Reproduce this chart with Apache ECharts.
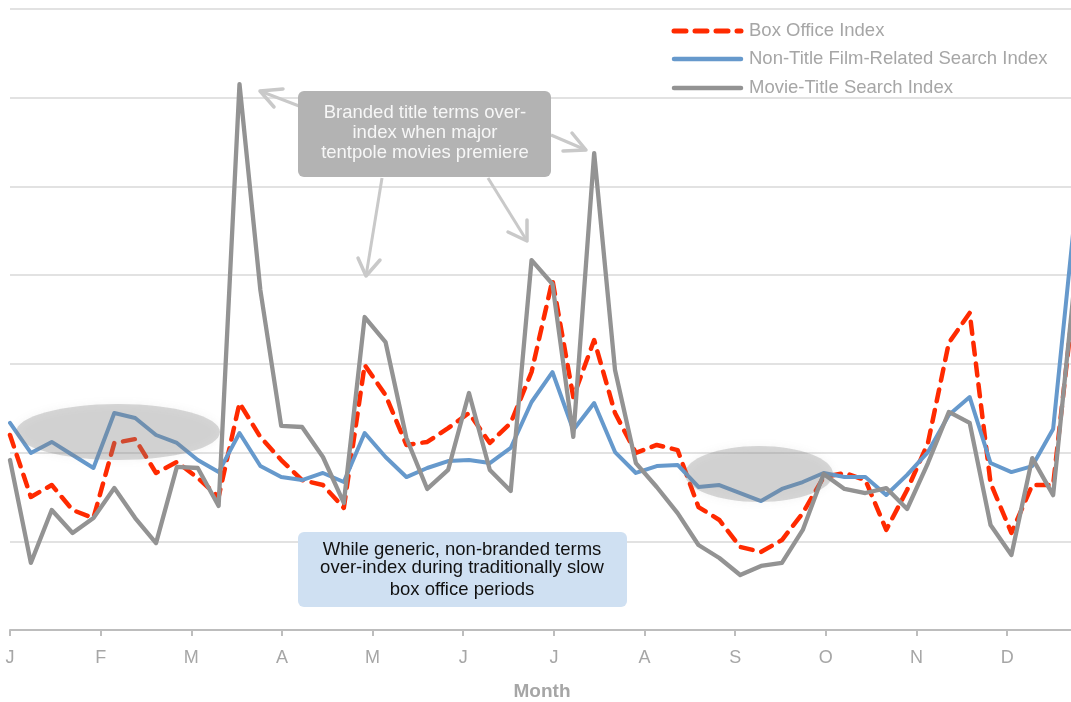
<!DOCTYPE html>
<html>
<head>
<meta charset="utf-8">
<script src="https://cdn.jsdelivr.net/npm/echarts@6/dist/echarts.min.js"></script>
<style>
html,body{margin:0;padding:0;background:#fff;overflow:hidden;}
#chart{width:1071px;height:702px;}
</style>
</head>
<body>
<div id="chart"></div>
<script>
// Month tick labels
var monthLabels = ['J','F','M','A','M','J','J','A','S','O','N','D'];
// Weekly index values (52 weeks)
var boxOffice = [109.9,75.0,81.7,67.6,63.1,105.4,107.6,88.5,94.7,85.7,75.0,127.9,108.8,95.8,84.5,81.7,68.8,149.4,132.4,104.3,106.0,113.8,122.3,105.4,116.7,145.4,197.3,131.3,163.4,122.3,99.8,104.3,101.4,69.3,62.0,46.8,44.0,50.7,65.9,86.2,88.5,84.5,56.4,78.9,105.4,161.8,178.7,82.8,54.7,81.7,81.7,187.0];
var nonTitle = [116.7,99.8,106.0,98.6,91.3,122.3,119.5,109.9,105.4,95.8,89.0,111.0,92.4,86.2,84.5,88.5,83.4,111.0,97.5,86.2,91.3,95.2,95.8,94.1,102.6,128.5,145.4,112.7,127.9,100.3,88.5,92.4,93.0,80.6,81.7,77.2,72.7,79.5,83.4,88.5,86.2,86.2,76.1,87.4,100.3,121.2,131.3,94.1,89.0,92.4,113.3,228.8];
var movieTitle = [95.8,37.8,67.6,54.7,63.1,80.0,63.1,49.0,91.9,91.3,69.9,307.7,191.6,115.0,114.4,97.5,71.6,176.4,162.3,108.2,79.5,90.2,133.6,90.2,78.3,208.5,195.0,108.8,268.8,146.5,94.1,80.6,65.9,47.9,40.6,31.0,36.1,37.8,56.4,87.9,79.5,77.2,80.0,68.2,94.1,122.9,116.7,59.2,42.3,96.9,76.0,192.5];
var seriesNames = ['Box Office Index','Non-Title Film-Related Search Index','Movie-Title Search Index'];
var seriesColors = ['#ff2a00','#6699cc','#939393'];

function pairs(arr){ return arr.map(function(v,i){ return [i, v]; }); }
var monthInterval = 52.14/12;

var chart = echarts.init(document.getElementById('chart'), null, {renderer:'canvas'});
var font = '"Liberation Sans", Arial, sans-serif';

function arrow(shaft, head){
  return [
    {type:'polyline', z:20, shape:{points:shaft}, style:{stroke:'#c9c9c9', lineWidth:3, fill:null}},
    {type:'polyline', z:20, shape:{points:head}, style:{stroke:'#c9c9c9', lineWidth:3.5, fill:null, lineCap:'round', lineJoin:'round'}}
  ];
}

var graphics = [];
// ellipses (semi-transparent highlight)
var ellStyle = {fill:'rgba(128,128,128,0.3)', shadowBlur:8, shadowColor:'rgba(128,128,128,0.3)'};
graphics.push({type:'ellipse', z:15, shape:{cx:118, cy:432, rx:102, ry:28}, style:ellStyle});
graphics.push({type:'ellipse', z:15, shape:{cx:759, cy:474, rx:74, ry:28}, style:ellStyle});
// arrows
graphics = graphics.concat(arrow([[299,106],[260,91]], [[283,89],[260,91],[274,107]]));
graphics = graphics.concat(arrow([[551,135],[586,150]], [[563,151],[586,150],[572,133]]));
graphics = graphics.concat(arrow([[382,178],[366,276]], [[358,258],[366,276],[380,260]]));
graphics = graphics.concat(arrow([[488,178],[527,241]], [[508,232],[527,241],[527,220]]));
// gray box
graphics.push({type:'rect', z:21, shape:{x:298, y:91, width:253, height:86, r:6}, style:{fill:'#b3b3b3'}});
graphics.push({type:'text', z:22, x:425, y:133, style:{
  text:'Branded title terms over-\nindex when major\ntentpole movies premiere',
  fill:'#f7f7f7', font:'18.5px ' + font, align:'center', verticalAlign:'middle', lineHeight:20}});
// blue box
graphics.push({type:'rect', z:21, shape:{x:298, y:532, width:329, height:75, r:6}, style:{fill:'#cfe0f2'}});
var blueLines = [['While generic, non-branded terms',550],['over-index during traditionally slow',568],['box office periods',590]];
blueLines.forEach(function(l){
  graphics.push({type:'text', z:22, x:462, y:l[1], style:{text:l[0], fill:'#111111',
    font:'18.5px ' + font, align:'center', verticalAlign:'middle'}});
});
// legend (drawn as graphic to match the reference's line-only keys)
var legendY = [31, 59, 88];
seriesNames.forEach(function(name, k){
  graphics.push({type:'line', z:22, shape:{x1:674, y1:legendY[k], x2:741, y2:legendY[k]},
    style:{stroke:seriesColors[k], lineWidth:k===0?5:4.5, lineCap:'round',
      lineDash:k===0?[12,9]:null}});
  graphics.push({type:'text', z:22, x:749, y:legendY[k], style:{text:name, fill:'#a6a6a6',
    font:'18.5px ' + font, align:'left', verticalAlign:'middle'}});
});

var option = {
  backgroundColor:'#ffffff',
  animation:false,
  grid:{left:10, width:1064, top:9, bottom:72, containLabel:false, outerBoundsMode:'none'},
  xAxis:{
    type:'value', min:0, max:51, interval:monthInterval,
    name:'Month', nameLocation:'middle', nameGap:52,
    nameTextStyle:{color:'#a6a6a6', fontSize:19, fontWeight:'bold', fontFamily:font},
    axisLine:{show:true, lineStyle:{color:'#bdbdbd', width:2}},
    axisTick:{show:true, length:6, lineStyle:{color:'#bdbdbd', width:2}},
    axisLabel:{color:'#a6a6a6', fontSize:18, fontFamily:font, margin:19, showMaxLabel:false,
      formatter:function(v){
        var k = v / monthInterval, r = Math.round(k);
        if (Math.abs(k - r) < 0.02 && r >= 0 && r < monthLabels.length) return monthLabels[r];
        return '';
      }},
    splitLine:{show:false}
  },
  yAxis:{
    type:'value', min:0, max:350, interval:50,
    axisLine:{show:false}, axisTick:{show:false}, axisLabel:{show:false},
    splitLine:{show:true, lineStyle:{color:'#e2e2e2', width:2}}
  },
  series:[
    {name:seriesNames[0], type:'line', data:pairs(boxOffice), symbol:'none', z:3,
      lineStyle:{color:seriesColors[0], width:4.5, type:[12,9], cap:'round', join:'round'}},
    {name:seriesNames[1], type:'line', data:pairs(nonTitle), symbol:'none', z:4,
      lineStyle:{color:seriesColors[1], width:4, cap:'round', join:'round'}},
    {name:seriesNames[2], type:'line', data:pairs(movieTitle), symbol:'none', z:5,
      lineStyle:{color:seriesColors[2], width:4.3, cap:'round', join:'round'}}
  ],
  graphic:graphics
};
chart.setOption(option);
</script>
</body>
</html>
